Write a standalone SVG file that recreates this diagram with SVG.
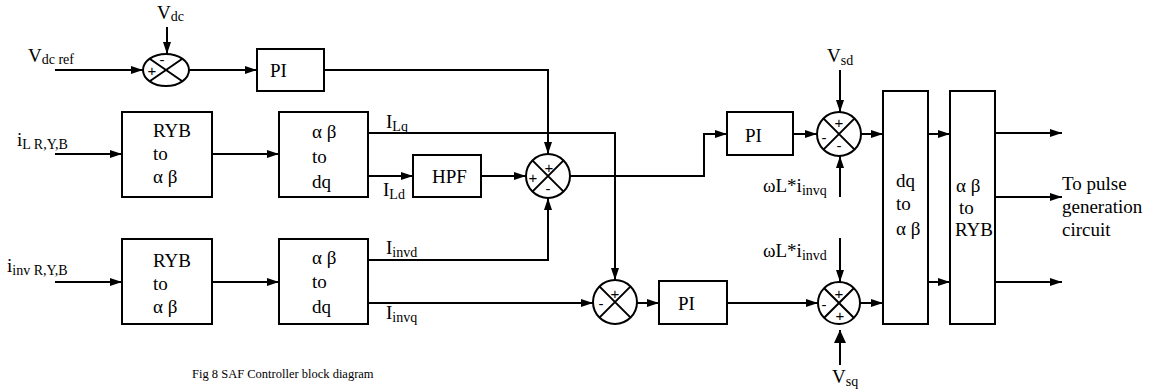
<svg xmlns="http://www.w3.org/2000/svg" width="1153" height="392" viewBox="0 0 1153 392">
<defs>
<marker id="ah" markerUnits="userSpaceOnUse" markerWidth="13" markerHeight="9" refX="12" refY="4" orient="auto"><path d="M0,0 L12,4 L0,8 z" fill="#000"/></marker>
<marker id="ahb" markerUnits="userSpaceOnUse" markerWidth="14" markerHeight="13" refX="13" refY="6" orient="auto"><path d="M0,0 L13,6 L0,12 z" fill="#000"/></marker>
<style>
.b{fill:#fff;stroke:#000;stroke-width:2}
.w{fill:none;stroke:#000;stroke-width:2}
.a{fill:none;stroke:#000;stroke-width:2;marker-end:url(#ah)}
text{font-family:"Liberation Serif","Times New Roman",serif;font-size:19px;fill:#000}
.s{font-size:14px}
.sg{font-family:"Liberation Sans",Arial,sans-serif;font-size:15px;text-anchor:middle}
.cap{font-size:12.5px}
</style>
</defs>
<rect width="1153" height="392" fill="#fff"/>
<g id="connectors">
<line class="a" x1="167" y1="27" x2="167" y2="54"/>
<line class="a" x1="55" y1="70" x2="143" y2="70"/>
<line class="a" x1="189" y1="70" x2="257" y2="70"/>
<polyline class="a" points="324,70 548,70 548,154"/>
<line class="a" x1="55" y1="154" x2="122" y2="154"/>
<line class="a" x1="212" y1="154" x2="279" y2="154"/>
<polyline class="a" points="368,133 615,133 615,280"/>
<line class="a" x1="368" y1="176" x2="413" y2="176"/>
<line class="a" x1="481" y1="176" x2="526" y2="176"/>
<polyline class="a" points="570,176 704,176 704,134 727,134"/>
<line class="a" x1="793" y1="134" x2="817" y2="134"/>
<line class="a" x1="840" y1="70" x2="840" y2="112"/>
<line class="a" x1="840" y1="197" x2="840" y2="156"/>
<line class="a" x1="861" y1="134" x2="883" y2="134"/>
<line class="a" x1="928" y1="134" x2="950" y2="134"/>
<line class="a" x1="928" y1="282" x2="950" y2="282"/>
<line class="a" x1="995" y1="133" x2="1062" y2="133"/>
<line class="a" x1="995" y1="197" x2="1062" y2="197"/>
<line class="a" x1="995" y1="282" x2="1062" y2="282"/>
<line class="a" x1="55" y1="282" x2="122" y2="282"/>
<line class="a" x1="212" y1="282" x2="279" y2="282"/>
<polyline class="a" points="368,260 548,260 548,198"/>
<line class="a" x1="368" y1="303" x2="593" y2="303"/>
<line class="a" x1="637" y1="303" x2="659" y2="303"/>
<line class="a" x1="727" y1="303" x2="818" y2="303"/>
<line class="a" x1="840" y1="238" x2="840" y2="282"/>
<line class="w" x1="840" y1="365" x2="840" y2="330" style="marker-end:url(#ahb)"/>
<line class="a" x1="860" y1="303" x2="883" y2="303"/>
</g>
<g id="labels">
<text x="157" y="19">V<tspan class="s" dy="2">dc</tspan></text>
<text x="28" y="62">V<tspan class="s" dy="2">dc ref</tspan></text>
<text x="17" y="146">i<tspan class="s" dy="3">L R,Y,B</tspan></text>
<text x="7" y="272">i<tspan class="s" dy="3">inv R,Y,B</tspan></text>
<text x="386" y="128">I<tspan class="s" dy="3">Lq</tspan></text>
<text x="383" y="196">I<tspan class="s" dy="3">Ld</tspan></text>
<text x="386" y="254">I<tspan class="s" dy="3">invd</tspan></text>
<text x="386" y="319">I<tspan class="s" dy="3">invq</tspan></text>
<text x="827" y="62">V<tspan class="s" dy="3">sd</tspan></text>
<text x="763" y="192">ωL*i<tspan class="s" dy="3">invq</tspan></text>
<text x="763" y="257">ωL*i<tspan class="s" dy="3">invd</tspan></text>
<text x="832" y="383">V<tspan class="s" dy="3">sq</tspan></text>
<text x="1062" y="190">To pulse</text>
<text x="1062" y="213">generation</text>
<text x="1062" y="236">circuit</text>
<text class="cap" x="192" y="378">Fig 8 SAF Controller block diagram</text>
</g>
<g id="sum1">
<ellipse class="b" cx="166" cy="70" rx="23" ry="16"/>
<path class="w" d="M149.7,58.7 L182.3,81.3 M182.3,58.7 L149.7,81.3"/>
<text class="sg" x="162" y="65">-</text>
<text class="sg" x="152" y="76">+</text>
</g>
<g id="pi1">
<rect class="b" x="257" y="49" width="67" height="42"/>
<text x="270" y="77">PI</text>
</g>
<g id="ryb1">
<rect class="b" x="122" y="112" width="90" height="85"/>
<text x="153" y="137">RYB</text>
<text x="153" y="160">to</text>
<text x="153" y="183">α β</text>
</g>
<g id="abdq1">
<rect class="b" x="279" y="112" width="89" height="85"/>
<text x="312" y="138">α β</text>
<text x="312" y="163">to</text>
<text x="312" y="188">dq</text>
</g>
<g id="hpf">
<rect class="b" x="413" y="155" width="68" height="42"/>
<text x="432" y="183">HPF</text>
</g>
<g id="sum2">
<circle class="b" cx="548" cy="176" r="22"/>
<path class="w" d="M532.4,160.4 L563.6,191.6 M563.6,160.4 L532.4,191.6"/>
<text class="sg" x="549" y="173">+</text>
<text class="sg" x="533" y="183">+</text>
<text class="sg" x="548" y="194">-</text>
</g>
<g id="ryb2">
<rect class="b" x="122" y="239" width="90" height="85"/>
<text x="153" y="267">RYB</text>
<text x="153" y="290">to</text>
<text x="153" y="313">α β</text>
</g>
<g id="abdq2">
<rect class="b" x="279" y="239" width="89" height="85"/>
<text x="312" y="264">α β</text>
<text x="312" y="288">to</text>
<text x="312" y="313">dq</text>
</g>
<g id="sum3">
<circle class="b" cx="615" cy="302" r="22"/>
<path class="w" d="M599.4,286.4 L630.6,317.6 M630.6,286.4 L599.4,317.6"/>
<text class="sg" x="615" y="299">+</text>
<text class="sg" x="601" y="309">-</text>
</g>
<g id="pi3">
<rect class="b" x="659" y="281" width="68" height="43"/>
<text x="678" y="310">PI</text>
</g>
<g id="pi2">
<rect class="b" x="727" y="112" width="66" height="43"/>
<text x="745" y="142">PI</text>
</g>
<g id="sum4">
<circle class="b" cx="839" cy="134" r="22"/>
<path class="w" d="M823.4,118.4 L854.6,149.6 M854.6,118.4 L823.4,149.6"/>
<text class="sg" x="839" y="128">+</text>
<text class="sg" x="824" y="143">-</text>
<text class="sg" x="839" y="151">-</text>
</g>
<g id="sum5">
<circle class="b" cx="839" cy="303" r="21"/>
<path class="w" d="M824.2,288.2 L853.8,317.8 M853.8,288.2 L824.2,317.8"/>
<text class="sg" x="839" y="299">+</text>
<text class="sg" x="824" y="310">-</text>
<text class="sg" x="840" y="321">+</text>
</g>
<g id="dq2ab">
<rect class="b" x="883" y="91" width="45" height="233"/>
<text x="896" y="187">dq</text>
<text x="896" y="210">to</text>
<text x="896" y="235">α β</text>
</g>
<g id="ab2ryb">
<rect class="b" x="950" y="91" width="45" height="233"/>
<text x="956" y="192">α β</text>
<text x="959" y="214">to</text>
<text x="955" y="236" textLength="38" lengthAdjust="spacingAndGlyphs">RYB</text>
</g>
</svg>
